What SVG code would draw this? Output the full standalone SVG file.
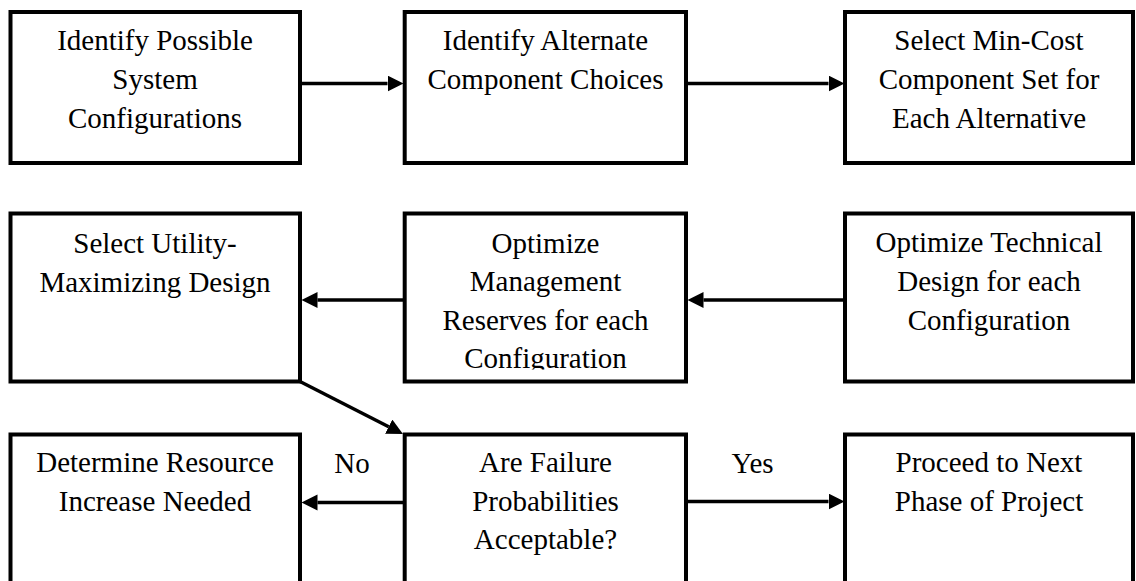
<svg xmlns="http://www.w3.org/2000/svg" width="1136" height="581" viewBox="0 0 1136 581">
<style>
.box{fill:#fff;stroke:#000;stroke-width:4}
.lbl{font-family:"Liberation Serif","Times New Roman",serif;font-size:29px;fill:#000;text-anchor:middle}
.conn{stroke:#000;stroke-width:3.5;fill:none}
</style>
<defs>
<marker id="ah" markerUnits="userSpaceOnUse" markerWidth="17" markerHeight="17" refX="0" refY="8" orient="auto">
<path d="M0,0 L16,8 L0,16 Z" fill="#000"/>
</marker>
<clipPath id="clipMgmt"><rect x="404" y="213" width="283" height="156.5"/></clipPath>
</defs>
<rect width="1136" height="581" fill="#fff"/>

<g id="n1">
<rect class="box" x="10.5" y="12" width="289.5" height="151"/>
<text class="lbl" x="155" y="50">Identify Possible</text>
<text class="lbl" x="155" y="89">System</text>
<text class="lbl" x="155" y="128">Configurations</text>
</g>
<g id="n2">
<rect class="box" x="404.7" y="12" width="281.3" height="151"/>
<text class="lbl" x="545.5" y="50">Identify Alternate</text>
<text class="lbl" x="545.5" y="89">Component Choices</text>
</g>
<g id="n3">
<rect class="box" x="845" y="12" width="288" height="151"/>
<text class="lbl" x="989" y="50">Select Min-Cost</text>
<text class="lbl" x="989" y="89">Component Set for</text>
<text class="lbl" x="989" y="128">Each Alternative</text>
</g>

<g id="n4">
<rect class="box" x="10.5" y="213.5" width="289.5" height="168"/>
<text class="lbl" x="155" y="252.5">Select Utility-</text>
<text class="lbl" x="155" y="291.5">Maximizing Design</text>
</g>
<g id="n5">
<rect class="box" x="404.7" y="213.5" width="281.3" height="168"/>
<g clip-path="url(#clipMgmt)">
<text class="lbl" x="545.5" y="252.5">Optimize</text>
<text class="lbl" x="545.5" y="291">Management</text>
<text class="lbl" x="545.5" y="329.5">Reserves for each</text>
<text class="lbl" x="545.5" y="368">Configuration</text>
</g>
</g>
<g id="n6">
<rect class="box" x="845" y="213.5" width="288" height="168"/>
<text class="lbl" x="989" y="252">Optimize Technical</text>
<text class="lbl" x="989" y="291">Design for each</text>
<text class="lbl" x="989" y="329.5">Configuration</text>
</g>

<g id="n7">
<rect class="box" x="10.5" y="434.5" width="289.5" height="170"/>
<text class="lbl" x="155" y="471.5">Determine Resource</text>
<text class="lbl" x="155" y="510.5">Increase Needed</text>
</g>
<g id="n8">
<rect class="box" x="404.7" y="434.5" width="281.3" height="170"/>
<text class="lbl" x="545.5" y="471.5">Are Failure</text>
<text class="lbl" x="545.5" y="510.5">Probabilities</text>
<text class="lbl" x="545.5" y="549.3">Acceptable?</text>
</g>
<g id="n9">
<rect class="box" x="845" y="434.5" width="288" height="170"/>
<text class="lbl" x="989" y="471.5">Proceed to Next</text>
<text class="lbl" x="989" y="510.5">Phase of Project</text>
</g>

<g id="connectors">
<line class="conn" x1="302" y1="83.5" x2="387.5" y2="83.5" marker-end="url(#ah)"/>
<line class="conn" x1="688" y1="83.5" x2="828.5" y2="83.5" marker-end="url(#ah)"/>
<line class="conn" x1="843" y1="300" x2="703.5" y2="300" marker-end="url(#ah)"/>
<line class="conn" x1="403" y1="300" x2="317.5" y2="300" marker-end="url(#ah)"/>
<line class="conn" x1="300" y1="381.5" x2="388.7" y2="426.7" marker-end="url(#ah)"/>
<line class="conn" x1="403" y1="502.5" x2="317.5" y2="502.5" marker-end="url(#ah)"/>
<line class="conn" x1="688" y1="501.5" x2="828.5" y2="501.5" marker-end="url(#ah)"/>
<text class="lbl" x="352" y="472.5">No</text>
<text class="lbl" x="752.5" y="473">Yes</text>
</g>
</svg>
